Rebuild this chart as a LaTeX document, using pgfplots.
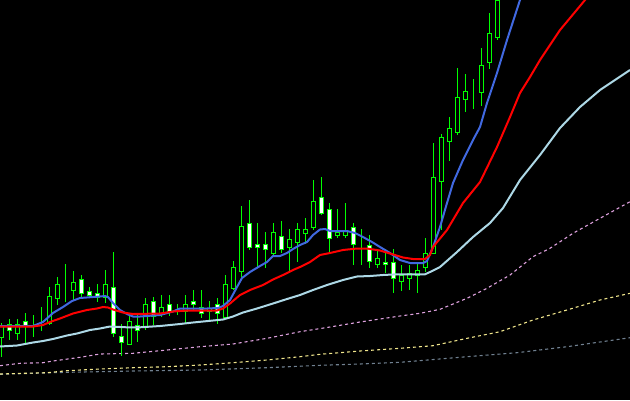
\documentclass[border=0pt]{standalone}
\usepackage{pgfplots}
\usepackage{pgfplotstable}
\pgfplotsset{compat=1.18}
\definecolor{maBlue}{RGB}{65,105,225}
\definecolor{maRed}{RGB}{255,0,0}
\definecolor{maLight}{RGB}{173,216,230}
\definecolor{maPlum}{RGB}{221,160,221}
\definecolor{maKhaki}{RGB}{240,230,140}
\definecolor{maGray}{RGB}{112,128,144}
\definecolor{candlegreen}{RGB}{0,255,0}
% candles: x position, open, high, low, close (screen units, y grows downward)
\pgfplotstableread{
x o h l c
1.5 337 323 357 326
9.5 324 319 340 330
17.5 333 319 340 324
25.5 321 313 343 325
33.5 321 315 337 321
41.5 319 307 331 319
49.5 323 287 325 296
57.5 298 277 305 284
65.5 287 264 302 287
73.5 290 271 300 282
81.5 279 275 297 293
89.5 291 287 298 295
97.5 293 284 302 297
105.5 297 270 303 284
113.5 287 252 337 333
121.5 336 324 356 342
129.5 344 313 344 321
137.5 325 315 342 330
145.5 327 298 330 304
153.5 301 297 325 316
161.5 313 295 317 307
169.5 304 295 316 311
177.5 307 304 315 307
185.5 311 295 323 304
193.5 301 290 310 304
201.5 307 290 318 313
209.5 311 301 320 308
217.5 304 298 324 313
225.5 317 275 317 284
233.5 288 261 290 267
241.5 271 206 277 226
249.5 223 200 250 247
257.5 244 223 267 247
265.5 244 232 268 249
273.5 253 223 257 232
281.5 236 221 253 249
289.5 247 229 272 239
297.5 242 223 262 229
305.5 233 218 244 229
313.5 227 180 230 201
321.5 197 177 215 213
329.5 209 203 252 238
337.5 235 209 238 232
345.5 235 203 238 230
353.5 227 223 265 244
361.5 247 229 265 247
369.5 245 235 268 261
377.5 264 249 268 258
385.5 262 249 273 264
393.5 262 249 293 278
401.5 281 265 291 275
409.5 278 265 290 273
417.5 275 262 293 270
425.5 267 238 272 253
433.5 253 143 253 177
441.5 181 134 230 137
449.5 141 117 161 128
457.5 132 68 135 97
465.5 99 74 112 91
473.5 88 79 109 88
481.5 92 48 106 65
489.5 62 13 69 33
497.5 37 0 40 0
}\candles
\pgfplotsset{chartbase/.style={width=630bp,height=400bp,scale only axis,
  xmin=0,xmax=630,ymin=0,ymax=400,y dir=reverse,axis lines=none,clip=true}}
\begin{document}
\begin{tikzpicture}
% background, long moving averages and wicks
\begin{axis}[chartbase, axis background/.style={fill=black}]
\addplot[maGray, line width=1.1bp, dash pattern=on 3bp off 3bp] coordinates {
(0,374.3)(33,373.3)(67,372.3)(133,371)(200,370)(267,367.7)(320,365.3)(360,364)(400,362.3)(467,356.7)(517,352.7)(567,346.7)(630,337.7)};
\addplot[maKhaki, line width=1.1bp, dash pattern=on 3bp off 3bp] coordinates {
(0,374)(23,373.3)(47,372.7)(67,370.7)(100,369)(133,367.7)(167,366.7)(200,365)(233,362.7)(267,360)(300,356.7)(320,354.3)(360,351)(400,348.3)(433,345.7)(467,338.3)(500,331.7)(533,320)(567,310)(600,300)(630,293.3)};
\addplot[maPlum, line width=1.1bp, dash pattern=on 3bp off 3bp] coordinates {
(0,365.7)(20,363.3)(43,362.7)(53,361)(80,357.3)(100,354)(133,353.3)(167,350)(200,346.7)(233,344)(267,338.3)(300,331.7)(330,327)(360,322)(400,316)(420,313.3)(440,309.3)(467,298.3)(487,288.3)(510,275)(533,256.7)(550,248.3)(573,233.3)(600,218.3)(630,201.7)};
\addplot[draw=none, mark=none, error bars/.cd, y dir=plus, y explicit, error mark=none,
  error bar style={draw=candlegreen, solid, line width=1bp}]
  table[x=x, y=h, y error expr={\thisrow{l}-\thisrow{h}}] {\candles};
\end{axis}
% candle bodies
\begin{axis}[chartbase, ybar stacked, bar width=4bp]
\addplot[draw=none, fill=none] table[x=x, y expr={min(\thisrow{o},\thisrow{c})+0.5}] {\candles};
\addplot[draw=candlegreen, fill=black, line width=1bp] table[x=x, y expr={max(\thisrow{o}-\thisrow{c},0)}] {\candles};
\addplot[draw=candlegreen, fill=white, line width=1bp] table[x=x, y expr={max(\thisrow{c}-\thisrow{o},0)}] {\candles};
\end{axis}
% short moving averages
\begin{axis}[chartbase]
\addplot[maLight, line width=2bp] coordinates {
(0,346.5)(17,345.5)(33,342.5)(43,341)(53,339)(67,335.5)(77,333.5)(90,330)(100,328.5)(110,326.5)(127,327.3)(140,327.3)(160,326)(180,324)(193,322.5)(213,320.5)(223,319.5)(233,316.5)(243,312.5)(257,308.5)(273,303.5)(287,299)(300,295)(313,290)(327,285)(343,280)(357,276.5)(370,276)(383,275)(397,274.3)(425,274.3)(430,272)(440,267)(457,252)(473,237)(490,223)(503,208)(520,180)(540,155)(560,128)(580,107)(600,90)(615,80)(630,70)};
\addplot[maBlue, line width=2bp] coordinates {
(0,326)(33,326)(43,322)(53,313)(63,307)(72,301)(80,298)(93,297)(100,296.5)(105,296)(108,297)(113,303)(120,310)(127,314)(133,316.5)(140,316.5)(160,315)(173,311.5)(180,308.5)(207,308.5)(218,308)(223,306)(230,300)(237,287)(242,278)(250,272)(260,266)(267,262)(273,256)(280,256)(287,253)(293,249)(300,245)(307,242)(313,235)(320,229.5)(325,229)(330,231)(347,231)(355,233)(363,237)(372,242)(380,247)(390,253)(400,260)(410,263)(423,263)(427,261)(430,254)(433,247)(440,227)(447,203)(453,183)(463,160)(473,140)(480,127)(487,103)(497,73)(507,40)(520,0)(525,-15)};
\addplot[maRed, line width=2bp] coordinates {
(0,326.5)(33,326.5)(43,325)(50,322)(60,318.5)(73,313.5)(87,310)(97,308.5)(103,307)(108,307.5)(113,309.5)(123,312.5)(133,314)(160,313.5)(173,311.5)(187,310.5)(217,310.5)(223,308.5)(230,303.5)(240,295)(250,290)(263,285)(273,279.5)(283,275)(293,270)(300,267)(310,262)(320,255)(330,253)(343,250)(357,248.5)(367,248.5)(380,250.5)(390,253.5)(403,257.5)(413,259)(425,259)(430,255)(433,247)(447,230)(463,203)(480,182)(497,147)(510,117)(520,93)(530,77)(540,60)(560,30)(585,0)(600,-15)};
\end{axis}
\end{tikzpicture}
\end{document}
